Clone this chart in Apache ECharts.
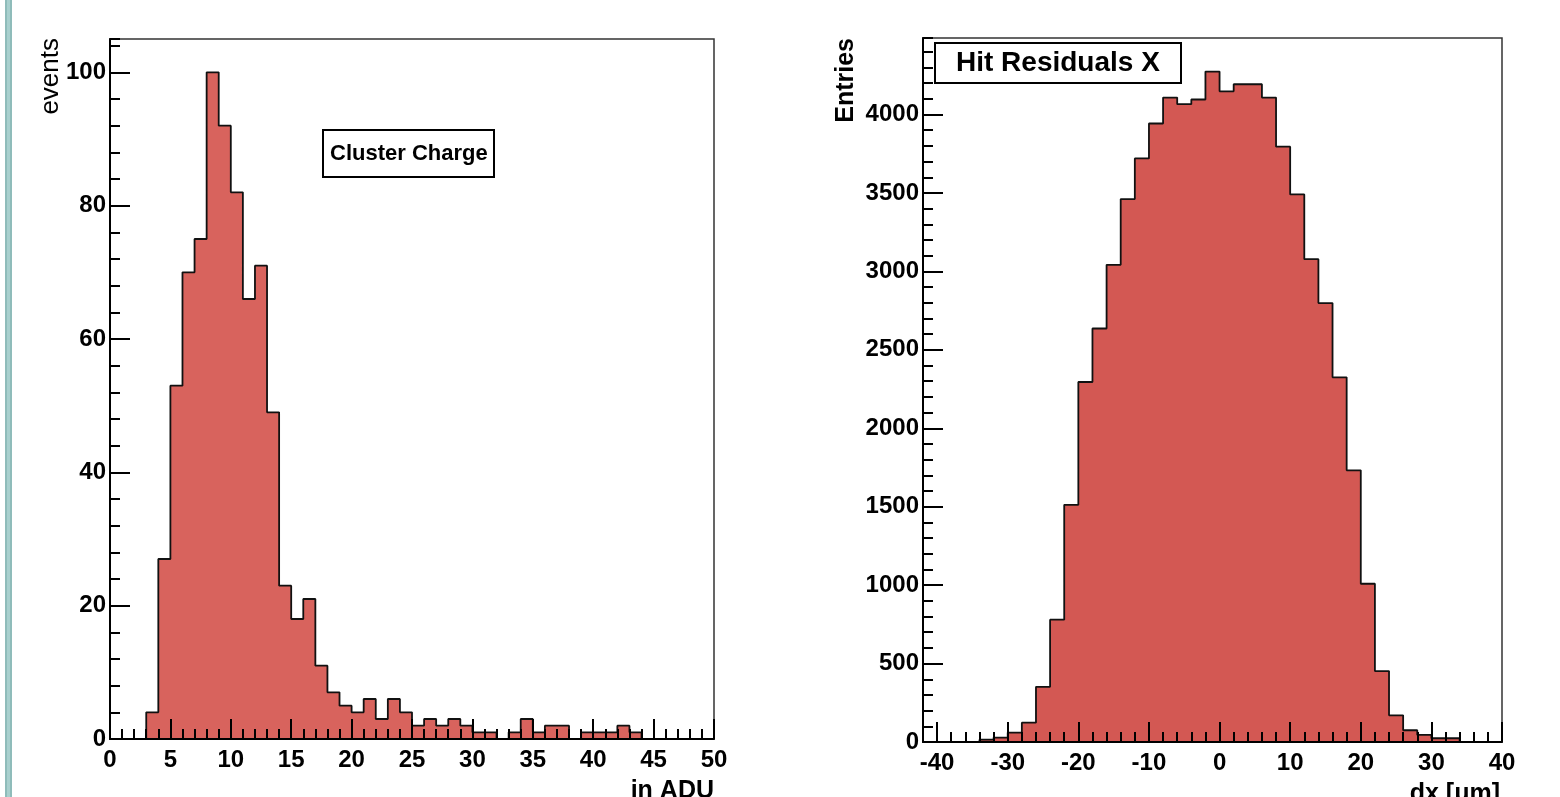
<!DOCTYPE html>
<html><head><meta charset="utf-8">
<script src="https://cdn.jsdelivr.net/npm/echarts@6/dist/echarts.min.js"></script>
<style>html,body{margin:0;padding:0;background:#fff}#c{width:1560px;height:797px}</style>
</head><body><div id="c"></div>
<script>
// ---------- data ----------
const chargeTitle = 'Cluster Charge';
const chargeXName = 'in ADU';
const chargeYName = 'events';
const chargeBinStart = 0;
const chargeBinWidth = 1;
const chargeCounts = [0,0,0,4,27,53,70,75,100,92,82,66,71,49,23,18,21,11,7,5,4,6,3,6,4,2,3,2,3,2,1,1,0,1,3,1,2,2,0,1,1,1,2,1,0,0,0,0,0,0];
const chargeXRange = [0, 50];
const chargeYRange = [0, 105];
const chargeXMajor = 5, chargeXMinor = 1;
const chargeYMajor = 20, chargeYMinor = 4;

const residTitle = 'Hit Residuals X';
const residXName = 'dx [μm]';
const residYName = 'Entries';
const residBinStart = -42;
const residBinWidth = 2;
const residCounts = [0,0,0,0,15,28,60,123,352,780,1512,2295,2636,3042,3461,3720,3943,4108,4066,4096,4274,4148,4193,4193,4108,3795,3491,3078,2798,2325,1732,1009,452,170,75,45,24,24,0,0,0];
const residXRange = [-42, 40];
const residYRange = [0, 4488];
const residXSplit = 8, residXMinor = 2;
const residYMajor = 500, residYMinor = 100;

// ---------- helpers ----------
const FONT = '"Liberation Sans", Arial, Helvetica, sans-serif';
function stepPoints(start, w, counts) {
  const pts = counts.map((v, i) => [start + i * w, v]);
  pts.push([start + counts.length * w, counts[counts.length - 1]]);
  return pts;
}
const tickLine = {color: '#000', width: 2};
const labelStyle = {color: '#000', fontSize: 24, fontWeight: 'bold', fontFamily: FONT,
  formatter: v => String(v)};

function majorAxis(grid, pos, range, extra) {
  return Object.assign({
    gridIndex: grid, type: 'value', position: pos, min: range[0], max: range[1], z: 10,
    axisLine: {show: true, onZero: false, lineStyle: {color: '#000', width: 2}},
    axisTick: {show: true, inside: true, length: 20, lineStyle: tickLine},
    splitLine: {show: false}, minorTick: {show: false}, minorSplitLine: {show: false}
  }, extra);
}
function minorAxis(grid, pos, range, interval) {
  return {
    gridIndex: grid, type: 'value', position: pos, min: range[0], max: range[1], interval: interval, z: 10,
    axisLine: {show: false, onZero: false},
    axisTick: {show: true, inside: true, length: 10, lineStyle: tickLine},
    axisLabel: {show: false}, splitLine: {show: false}
  };
}
function xName(name, gap) {
  return {
    name: name, nameLocation: 'end', nameGap: gap, nameMoveOverlap: false,
    nameTextStyle: {align: 'right', verticalAlign: 'top', padding: [40, 0, 0, 0],
      fontSize: 25, fontWeight: 'bold', color: '#000', fontFamily: FONT}
  };
}

const chart = echarts.init(document.getElementById('c'), null, {renderer: 'canvas'});
chart.setOption({
  animation: false,
  backgroundColor: '#fff',
  title: [
    {text: chargeTitle, left: 323, top: 130, padding: [11, 7], borderColor: '#000', borderWidth: 2,
     backgroundColor: '#fff',
     textStyle: {fontSize: 22, fontWeight: 'bold', color: '#000', fontFamily: FONT, lineHeight: 25}},
    {text: residTitle, left: 935, top: 43, padding: [6, 21], borderColor: '#000', borderWidth: 2,
     backgroundColor: '#fff',
     textStyle: {fontSize: 28, fontWeight: 'bold', color: '#000', fontFamily: FONT, lineHeight: 28}}
  ],
  graphic: [
    {type: 'rect', left: 5, top: 0, shape: {width: 7, height: 797}, style: {fill: '#8fbcba'}, silent: true},
    {type: 'rect', left: 7, top: 0, shape: {width: 3, height: 797}, style: {fill: '#a9d0ce'}, silent: true},
    {type: 'text', x: 51, y: 38, rotation: Math.PI / 2,
     style: {text: chargeYName, fontSize: 26, fontFamily: FONT, fill: '#000', align: 'right', verticalAlign: 'middle'}},
    {type: 'text', x: 846, y: 38, rotation: Math.PI / 2,
     style: {text: residYName, fontSize: 25, fontWeight: 'bold', fontFamily: FONT, fill: '#000', align: 'right', verticalAlign: 'middle'}}
  ],
  grid: [
    {left: 110, top: 39, width: 604, height: 700, show: true, borderColor: '#333', borderWidth: 1.5, outerBoundsMode: 'none', containLabel: false},
    {left: 923, top: 38, width: 579, height: 704, show: true, borderColor: '#333', borderWidth: 1.5, outerBoundsMode: 'none', containLabel: false}
  ],
  xAxis: [
    majorAxis(0, 'bottom', chargeXRange, Object.assign({
      interval: chargeXMajor,
      axisLabel: Object.assign({margin: 9}, labelStyle)
    }, xName(chargeXName, 0))),
    minorAxis(0, 'bottom', chargeXRange, chargeXMinor),
    majorAxis(1, 'bottom', residXRange, Object.assign({
      splitNumber: residXSplit,
      axisLabel: Object.assign({margin: 9, showMinLabel: false, showMaxLabel: true}, labelStyle)
    }, xName(residXName, -2))),
    minorAxis(1, 'bottom', residXRange, residXMinor)
  ],
  yAxis: [
    majorAxis(0, 'left', chargeYRange, {
      interval: chargeYMajor,
      axisLabel: Object.assign({margin: 4, showMaxLabel: false, showMinLabel: true}, labelStyle)
    }),
    minorAxis(0, 'left', chargeYRange, chargeYMinor),
    majorAxis(1, 'left', residYRange, {
      interval: residYMajor,
      axisLabel: Object.assign({margin: 4, showMaxLabel: false, showMinLabel: true}, labelStyle)
    }),
    minorAxis(1, 'left', residYRange, residYMinor)
  ],
  series: [
    {type: 'line', name: chargeTitle, xAxisIndex: 0, yAxisIndex: 0, step: 'end', showSymbol: false, symbol: 'none',
     silent: true, z: 2,
     data: stepPoints(chargeBinStart, chargeBinWidth, chargeCounts),
     lineStyle: {color: '#111', width: 1.8},
     areaStyle: {color: '#d8635d', opacity: 1}},
    {type: 'line', name: residTitle, xAxisIndex: 2, yAxisIndex: 2, step: 'end', showSymbol: false, symbol: 'none',
     silent: true, z: 2,
     data: stepPoints(residBinStart, residBinWidth, residCounts),
     lineStyle: {color: '#111', width: 1.8},
     areaStyle: {color: '#d35853', opacity: 1}}
  ]
});
</script>
</body></html>
